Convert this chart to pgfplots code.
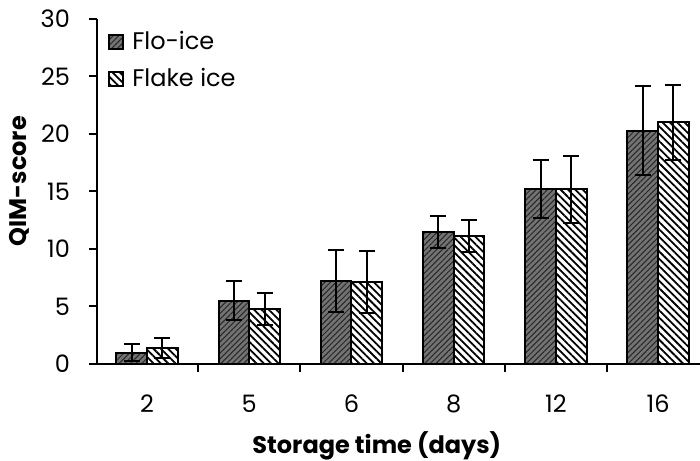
\documentclass[border=0pt]{standalone}
\usepackage{fontspec}
\setmainfont{Poppins}
\usepackage{pgfplots}
\pgfplotsset{compat=1.18}
\usetikzlibrary{patterns,patterns.meta}

\begin{document}
\begin{tikzpicture}
  \begin{axis}[name=a, scale only axis, width=301.5pt, height=172.5pt,
      axis lines=left, axis line style={-, line width=1pt},
      xmin=-0.49, xmax=5.41, ymin=0, ymax=30,
      ytick={0,5,...,30}, tick align=outside,
      major tick length=4pt, minor tick length=4pt,
      xtick={0,...,5}, xticklabels={2,5,6,8,12,16},
      major x tick style={draw=none},
      minor xtick={0.5,1.5,2.5,3.5,4.5},
      tick style={line width=1pt, black},
      /pgf/number format/assume math mode=true,
      ticklabel style={font=\fontsize{12}{14}\selectfont},
      yticklabel style={xshift=-6pt},
      xticklabel style={yshift=-8pt},
      xlabel={\textbf{Storage time (days)}},
      ylabel={\textbf{QIM-score}},
      label style={font=\fontsize{12}{14}\selectfont},
      xlabel style={at={(axis description cs:0.464,0)}, anchor=center, yshift=-41pt},
      ylabel style={at={(axis description cs:-0.128,0.53)}, anchor=center, rotate=0},
      ybar=0pt, bar width=0.3,
      legend style={at={(0,1)}, anchor=north west, xshift=2.5pt, yshift=-2pt,
        draw=none, fill=none, font=\fontsize{12}{14}\selectfont,
        row sep=4pt, cells={anchor=west}},
      legend image code/.code={\draw[#1] (0pt,-3.5pt) rectangle (7pt,3.5pt);},
      legend cell align=left,
      error bars/y dir=both, error bars/y explicit,
      error bars/error bar style={line width=1pt, black},
      error bars/error mark options={rotate=90, mark size=4pt, line width=1pt, black},
    ]
    \addplot[draw=black, line width=1pt, fill=black!55,
      postaction={pattern={Lines[angle=45, distance=2pt, line width=0.5pt]}, pattern color=black!85}]
      coordinates {(0,1.0) +- (0,0.7) (1,5.5) +- (0,1.7) (2,7.2) +- (0,2.7)
                   (3,11.5) +- (0,1.4) (4,15.2) +- (0,2.5) (5,20.3) +- (0,3.9)};
    \addplot[draw=black, line width=1pt, fill=white,
      postaction={pattern={Lines[angle=-45, distance=2.6pt, line width=0.9pt]}}]
      coordinates {(0,1.4) +- (0,0.9) (1,4.8) +- (0,1.4) (2,7.1) +- (0,2.7)
                   (3,11.1) +- (0,1.4) (4,15.2) +- (0,2.9) (5,21.0) +- (0,3.3)};
    \legend{\hspace{2pt}Flo-ice, \hspace{2pt}Flake ice}
  \end{axis}
  \pgfresetboundingbox
  \path ([shift={(-48.5pt,-48pt)}]a.south west) rectangle ([shift={(0pt,9.5pt)}]a.north east);
\end{tikzpicture}
\end{document}
